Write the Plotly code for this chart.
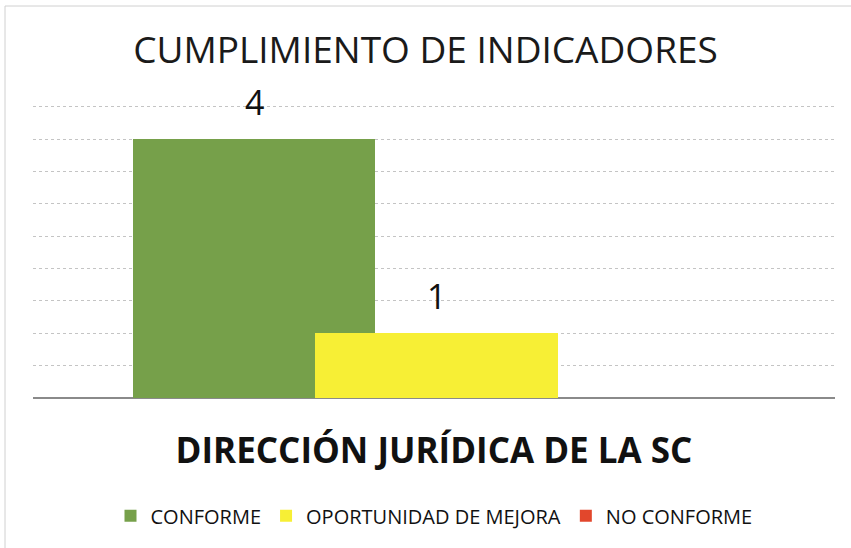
import plotly.graph_objects as go

# Chart data
category = ["DIRECCIÓN JURÍDICA DE LA SC"]
series_names = ["CONFORME", "OPORTUNIDAD DE MEJORA", "NO CONFORME"]
series_values = [4, 1, 0]
series_colors = ["#76A04A", "#F7EF35", "#E2472C"]
y_max = 4.5
y_step = 0.5

# Overlapping clustered bars: each bar offset within the single category slot
bar_width = 0.302
bar_offsets = [-0.375, -0.148, 0.079]

fig = go.Figure()
for name, val, color, off in zip(series_names, series_values, series_colors, bar_offsets):
    fig.add_trace(go.Bar(
        x=category,
        y=[val],
        name=name,
        marker=dict(color=color, line=dict(width=0)),
        width=bar_width,
        offset=off,
    ))
    # value label above each non-zero bar
    if val:
        fig.add_annotation(
            x=off + bar_width / 2, y=val, xref="x", yref="y",
            text=str(val), showarrow=False,
            yanchor="bottom", yshift=12,
            font=dict(family="Open Sans", size=34, color="#111111"),
        )

fig.update_layout(
    width=851,
    height=548,
    barmode="overlay",
    paper_bgcolor="white",
    plot_bgcolor="white",
    margin=dict(l=33, r=16, t=100, b=150),
    title=dict(
        text="CUMPLIMIENTO DE INDICADORES",
        x=0.5, xanchor="center",
        y=0.908, yanchor="middle",
        font=dict(family="Open Sans", size=37, color="#1a1a1a"),
    ),
    showlegend=True,
    legend=dict(
        orientation="h",
        x=0.5, xanchor="center",
        y=-0.33, yanchor="top",
        font=dict(family="Open Sans", size=20, color="#111111"),
        itemwidth=30,
        traceorder="normal",
    ),
    xaxis=dict(
        range=[-0.5, 0.5],
        showticklabels=False,
        ticks="",
        showgrid=False,
        showline=False,
        zeroline=False,
        title=dict(
            text="<b>DIRECCIÓN JURÍDICA DE LA SC</b>",
            font=dict(family="Open Sans", size=35, color="#111111"),
            standoff=40,
        ),
    ),
    yaxis=dict(
        range=[0, y_max * 1.024],
        tickmode="array",
        tickvals=[i * y_step for i in range(int(y_max / y_step) + 1)],
        showticklabels=False,
        ticks="",
        showgrid=True,
        gridcolor="#c4c4c4",
        griddash="dot",
        gridwidth=1,
        zeroline=True,
        zerolinecolor="#8a8a8a",
        zerolinewidth=2,
        showline=False,
    ),
    bargap=0,
)

# faint frame along the top and left edges
plot_h = 548 - 150 - 100
frame_top = (548 - 150 - 6) / plot_h
frame_left = -28 / 802
fig.add_shape(type="line", xref="paper", yref="paper",
              x0=frame_left, x1=1.02, y0=frame_top, y1=frame_top,
              line=dict(color="#d0d0d0", width=1))
fig.add_shape(type="line", xref="paper", yref="paper",
              x0=frame_left, x1=frame_left, y0=-150 / plot_h, y1=frame_top,
              line=dict(color="#d0d0d0", width=1))

fig.write_html("out.html")
